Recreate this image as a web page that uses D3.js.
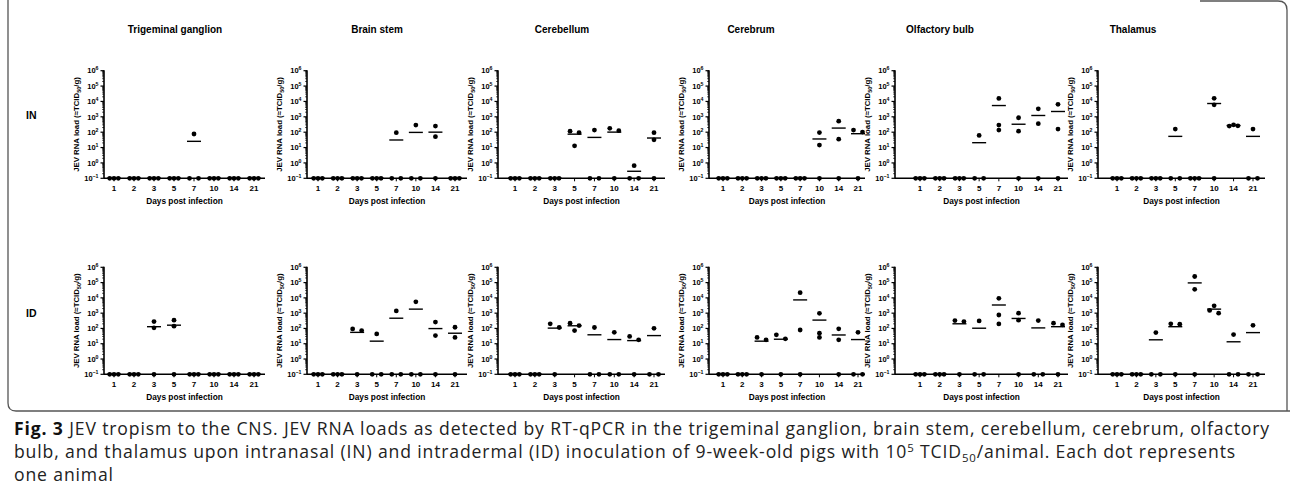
<!DOCTYPE html>
<html><head><meta charset="utf-8">
<script src="https://cdn.jsdelivr.net/npm/d3@7/dist/d3.min.js"></script>
<style>
body{margin:0;background:#fff;}
svg{display:block;}
</style></head>
<body><svg id="c" width="1290" height="495"></svg>
<script>
// ---------- data ----------
const days = ["1","2","3","5","7","10","14","21"];
const tissues = ["Trigeminal ganglion","Brain stem","Cerebellum","Cerebrum","Olfactory bulb","Thalamus"];
const routes = ["IN","ID"];
const yTickExps = [-1,0,1,2,3,4,5,6];
const F = 0.1; // limit of detection (plotted at 10^-1)

// each entry: one day, three animals (listed left-to-right as plotted)
const IN_trigeminal = [[F,F,F],[F,F,F],[F,F,F],[F,F,F],[F,76,F],[F,F,F],[F,F,F],[F,F,F]];
const IN_brainstem  = [[F,F,F],[F,F,F],[F,F,F],[F,F,F],[F,93,F],[F,290,F],[250,51,F],[F,F,F]];
const IN_cerebellum = [[F,F,F],[F,F,F],[F,F,F],[117,13,93],[F,137,F],[178,F,125],[F,0.66,F],[93,32,F]];
const IN_cerebrum   = [[F,F,F],[F,F,F],[F,F,F],[F,F,F],[F,F,F],[94,14.5,F],[520,35,F],[137,F,102]];
const IN_olfactory  = [[F,F,F],[F,F,F],[F,F,F],[F,62,F],[15800,290,137],[870,117,F],[3300,360,F],[6500,160,F]];
const IN_thalamus   = [[F,F,F],[F,F,F],[F,F,F],[F,160,F],[F,F,F],[16000,6000,F],[250,300,260],[F,160,F]];

const ID_trigeminal = [[F,F,F],[F,F,F],[280,110,F],[350,140,F],[F,F,F],[F,F,F],[F,F,F],[F,F,F]];
const ID_brainstem  = [[F,F,F],[F,F,F],[93,F,73],[F,44,F],[F,1400,F],[F,5500,F],[260,34,F],[120,26,F]];
const ID_cerebellum = [[F,F,F],[F,F,F],[200,F,115],[220,73,155],[F,115,F],[F,56,F],[30,F,18],[F,102,F]];
const ID_cerebrum   = [[F,F,F],[F,F,F],[26,F,18],[38,F,21],[22000,79,F],[26,980,49],[94,18,F],[F,56,F]];
const ID_olfactory  = [[F,F,F],[F,F,F],[325,F,280],[F,310,F],[9300,760,198],[1000,350,F],[F,325,F],[220,F,170]];
const ID_thalamus   = [[F,F,F],[F,F,F],[F,54,F],[200,F,190],[250000,36000,F],[3000,1500,1000],[F,40,F],[F,160,F]];

const panelsIN = [IN_trigeminal, IN_brainstem, IN_cerebellum, IN_cerebrum, IN_olfactory, IN_thalamus];
const panelsID = [ID_trigeminal, ID_brainstem, ID_cerebellum, ID_cerebrum, ID_olfactory, ID_thalamus];

const captionLines = [
  [{t:"Fig. 3",b:true},{t:" JEV tropism to the CNS. JEV RNA loads as detected by RT-qPCR in the trigeminal ganglion, brain stem, cerebellum, cerebrum, olfactory"}],
  [{t:"bulb, and thalamus upon intranasal (IN) and intradermal (ID) inoculation of 9-week-old pigs with 10"},{t:"5",sup:true},{t:" TCID"},{t:"50",sub:true},{t:"/animal. Each dot represents"}],
  [{t:"one animal"}]
];

// ---------- layout ----------
const axisX   = [104, 307, 498, 709, 895, 1098];
const firstX  = [114, 318, 515, 723, 920, 1117];
const lastX   = [254, 455, 654, 858, 1058, 1253];
const endX    = [265, 467, 665, 865, 1068, 1265];
const titleX  = [175, 377, 562, 751, 940, 1133];
const rowY    = [{top:70.7, bot:178.3}, {top:267.3, bot:374.3}];
const font = "'Liberation Sans', Arial, sans-serif";

const svg = d3.select("#c");

// frame
svg.append("path")
  .attr("d", "M8,-20 L8,403 Q8,411 16,411 L1290,411 M1278,1 Q1287,1 1287,10 L1287,411 M1200,1 L1278,1")
  .attr("fill","none").attr("stroke","#555").attr("stroke-width",1.3);

// titles
svg.selectAll("text.title").data(tissues).join("text")
  .attr("class","title")
  .attr("x",(d,i)=>titleX[i]).attr("y",33)
  .attr("text-anchor","middle")
  .attr("font-family",font).attr("font-weight","bold").attr("font-size",10)
  .text(d=>d);

// row labels
routes.forEach((r,ri)=>{
  svg.append("text").attr("x",26).attr("y",ri===0?119:317)
    .attr("font-family",font).attr("font-weight","bold").attr("font-size",10.5).text(r);
});

function drawPanel(data, pi, ri){
  const g = svg.append("g");
  const ry = rowY[ri];
  const y = d3.scaleLog().domain([0.1,1e6]).range([ry.bot, ry.top]);
  const x = d3.scalePoint().domain(days).range([firstX[pi], lastX[pi]]);
  const ax = axisX[pi];

  const minor = [];
  for(let e=-1;e<6;e++) for(let k=2;k<=9;k++) minor.push(k*Math.pow(10,e));
  g.selectAll("line.minor").data(minor).join("line")
    .attr("x1",ax-1.8).attr("x2",ax).attr("y1",d=>y(d)).attr("y2",d=>y(d))
    .attr("stroke","#000").attr("stroke-width",0.8);
  g.selectAll("line.major").data(yTickExps).join("line")
    .attr("x1",ax-3.5).attr("x2",ax).attr("y1",d=>y(Math.pow(10,d))).attr("y2",d=>y(Math.pow(10,d)))
    .attr("stroke","#000").attr("stroke-width",1.2);
  const tl = g.selectAll("text.yt").data(yTickExps).join("text")
    .attr("x",ax-5.5).attr("y",d=>y(Math.pow(10,d))+2.7)
    .attr("text-anchor","end")
    .attr("font-family",font).attr("font-weight","bold").attr("font-size",7.5);
  tl.append("tspan").text("10");
  tl.append("tspan").attr("dy",-3).attr("font-size",5.2).text(d=>String(d).replace("-","\u2212"));

  g.append("line").attr("x1",ax).attr("x2",ax).attr("y1",ry.top-0.5).attr("y2",ry.bot)
    .attr("stroke","#000").attr("stroke-width",1.6);
  g.append("line").attr("x1",ax).attr("x2",endX[pi]).attr("y1",ry.bot).attr("y2",ry.bot)
    .attr("stroke","#000").attr("stroke-width",1.6);
  g.selectAll("line.xt").data(days).join("line")
    .attr("x1",d=>x(d)).attr("x2",d=>x(d)).attr("y1",ry.bot).attr("y2",ry.bot+3)
    .attr("stroke","#000").attr("stroke-width",1);
  g.selectAll("text.xt").data(days).join("text")
    .attr("x",d=>x(d)).attr("y",ry.bot+12.8)
    .attr("text-anchor","middle")
    .attr("font-family",font).attr("font-weight","bold").attr("font-size",8)
    .text(d=>d);
  g.append("text").attr("x",(ax+endX[pi])/2).attr("y",ry.bot+26)
    .attr("text-anchor","middle")
    .attr("font-family",font).attr("font-weight","bold").attr("font-size",8.3)
    .text("Days post infection");
  const yl = g.append("text")
    .attr("transform",`translate(${ax-25},${(ry.top+ry.bot)/2}) rotate(-90)`)
    .attr("text-anchor","middle")
    .attr("font-family",font).attr("font-weight","bold").attr("font-size",7.8);
  yl.append("tspan").text("JEV RNA load (\u2248TCID");
  yl.append("tspan").attr("dy",2).attr("font-size",5.5).text("50");
  yl.append("tspan").attr("dy",-2).text("/g)");

  const pts = [];
  const means = [];
  data.forEach((vals,di)=>{
    const cx = x(days[di]);
    const py = vals.map(v=>y(v));
    const cl = vals.map((v,i)=>i);
    for(let i=0;i<vals.length;i++) for(let j=i+1;j<vals.length;j++){
      if(Math.abs(py[i]-py[j])<4){ const a=cl[j], b=cl[i]; cl.forEach((c,k)=>{ if(c===a) cl[k]=b; }); }
    }
    const groups = {};
    vals.forEach((v,i)=>{ (groups[cl[i]] = groups[cl[i]]||[]).push(i); });
    Object.values(groups).forEach(idx=>{
      const n = idx.length;
      idx.forEach((i,k)=>{
        let off = 0;
        if(n===2) off = (k===0?-4.5:4.5);
        else if(n===3) off = (k-1)*4.3;
        pts.push({cx:cx+off, cy:py[i]});
      });
    });
    means.push({cx, v:d3.mean(vals)});
  });
  g.selectAll("line.mean").data(means).join("line")
    .attr("x1",d=>d.cx-7).attr("x2",d=>d.cx+7)
    .attr("y1",d=>y(d.v)).attr("y2",d=>y(d.v))
    .attr("stroke","#000").attr("stroke-width",1.4);
  g.selectAll("circle").data(pts).join("circle")
    .attr("cx",d=>d.cx).attr("cy",d=>d.cy).attr("r",2.4).attr("fill","#000");
}

panelsIN.forEach((d,i)=>drawPanel(d,i,0));
panelsID.forEach((d,i)=>drawPanel(d,i,1));

// caption
const capFont = "'Open Sans', 'Noto Sans', sans-serif";
const capSize = 17.6;
const capTexts = captionLines.map((line,li)=>{
  const t = svg.append("text").attr("x",14).attr("y",435+li*23)
    .attr("font-family",capFont).attr("font-size",capSize).attr("fill","#222");
  line.forEach((s,si)=>{
    const ts = t.append("tspan").text(s.t);
    const prev = line[si-1];
    let dy = 0;
    if(prev && prev.sup) dy += 6;
    if(prev && prev.sub) dy -= 4;
    if(s.sup) dy -= 6;
    if(s.sub) dy += 4;
    if(dy) ts.attr("dy",dy);
    if(s.b) ts.attr("font-weight","bold").attr("fill","#111");
    if(s.sup || s.sub) ts.attr("font-size",capSize*0.65);
  });
  return t;
});
// spread letters so the first (full) line spans the caption width
const n0 = captionLines[0].map(s=>s.t).join("").length;
const w0 = capTexts[0].node().getComputedTextLength();
const ls = Math.max(0, (1256 - w0) / n0);
capTexts.forEach(t=>t.attr("letter-spacing", ls));
</script></body></html>
